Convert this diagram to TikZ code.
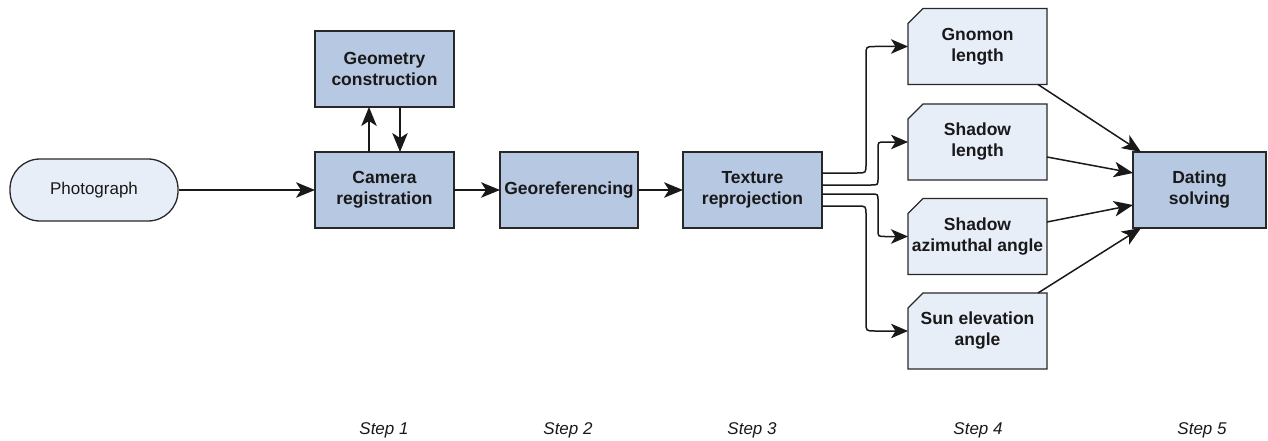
\documentclass[tikz,border=0pt]{standalone}
\usepackage{fontspec}
\setmainfont{Liberation Sans}
\usetikzlibrary{arrows.meta,backgrounds}
\definecolor{darkfill}{RGB}{183,200,226}
\definecolor{lightfill}{RGB}{232,238,248}
\definecolor{edge}{RGB}{40,40,40}
\definecolor{txt}{RGB}{25,25,25}
\tikzset{
  base/.style={text=txt, align=center,
    font=\fontsize{17.5}{21}\selectfont\bfseries, inner sep=0pt, outer sep=0pt,
    minimum width=139pt, minimum height=76pt},
  mainbox/.style={base, rectangle, draw=edge, line width=1.3pt, fill=darkfill},
  measbox/.style={base, rectangle},
  measedge/.style={draw=edge, line width=1.3pt, fill=lightfill, line join=miter},
  pill/.style={draw=edge, line width=1.3pt, fill=lightfill, text=txt,
    rounded corners=30pt, minimum width=168pt, minimum height=62pt,
    font=\fontsize{17}{21}\selectfont, inner sep=0pt},
  steplabel/.style={text=txt, font=\fontsize{17}{21}\selectfont\itshape, inner sep=0pt},
  arr/.style={draw=black!90, line width=1.5pt,
    -{Stealth[length=19pt,width=15.5pt,inset=5pt]}},
  arrs/.style={draw=black!90, line width=1.5pt,
    -{Stealth[length=17pt,width=14.5pt,inset=4.5pt]}},
}
\begin{document}
\begin{tikzpicture}[x=1pt,y=-1pt]
\useasboundingbox (0,0) rectangle (1268,441);

\node[pill] (photo) at (94,190) {Photograph};
\node[mainbox] (geo) at (384.5,69) {Geometry\\construction};
\node[mainbox] (cam) at (384.5,190) {Camera\\registration};
\node[mainbox, minimum width=138pt] (georef) at (569,190) {Georeferencing};
\node[mainbox] (tex) at (752.5,190) {Texture\\reprojection};

\node[measbox] (gnomon) at (977.5,46.5) {Gnomon\\length};
\node[measbox] (shlen) at (977.5,142) {Shadow\\length};
\node[measbox] (shaz) at (977.5,236.5) {Shadow\\azimuthal angle};
\node[measbox] (sun) at (977.5,331) {Sun elevation\\angle};

\begin{scope}[on background layer]
\foreach \b in {gnomon,shlen,shaz,sun}{
  \draw[measedge] ([yshift=-15pt]\b.north west) -- ([xshift=15pt]\b.north west)
    -- (\b.north east) -- (\b.south east) -- (\b.south west) -- cycle;
}
\end{scope}

\node[mainbox, minimum width=133pt] (dating) at (1199.5,190) {Dating\\solving};

\node[steplabel] (s1) at (384,430) {Step 1};
\node[steplabel] (s2) at (568,430) {Step 2};
\node[steplabel] (s3) at (752,430) {Step 3};
\node[steplabel] (s4) at (978,430) {Step 4};
\node[steplabel] (s5) at (1202,430) {Step 5};

\draw[arr] (photo.east) -- (cam.west);
\draw[arr] ([xshift=-15.5pt]cam.north) -- ([xshift=-15.5pt]geo.south);
\draw[arr] ([xshift=15.5pt]geo.south) -- ([xshift=15.5pt]cam.north);
\draw[arr] (cam.east) -- (georef.west);
\draw[arr] (georef.east) -- (tex.west);

% fan-out from Texture reprojection
\coordinate (oa) at ([yshift=17pt]tex.east);
\coordinate (ob) at ([yshift=5pt]tex.east);
\coordinate (oc) at ([yshift=-4pt]tex.east);
\coordinate (od) at ([yshift=-16pt]tex.east);
\coordinate (ka) at ([xshift=-42pt]gnomon.west);
\coordinate (kb) at ([xshift=-30pt]shlen.west);
\coordinate (kc) at ([xshift=-30pt]shaz.west);
\coordinate (kd) at ([xshift=-42pt]sun.west);

\draw[arrs] (oa) -- ([xshift=-9pt]ka |- oa) .. controls (ka |- oa) .. ([yshift=9pt]ka |- oa)
  -- ([yshift=-9pt]ka) .. controls (ka) .. ([xshift=9pt]ka) -- (gnomon.west);
\draw[arrs] (ob) -- ([xshift=-7pt]kb |- ob) .. controls (kb |- ob) .. ([yshift=7pt]kb |- ob)
  -- ([yshift=-7pt]kb) .. controls (kb) .. ([xshift=7pt]kb) -- (shlen.west);
\draw[arrs] (oc) -- ([xshift=-7pt]kc |- oc) .. controls (kc |- oc) .. ([yshift=-7pt]kc |- oc)
  -- ([yshift=7pt]kc) .. controls (kc) .. ([xshift=7pt]kc) -- (shaz.west);
\draw[arrs] (od) -- ([xshift=-9pt]kd |- od) .. controls (kd |- od) .. ([yshift=-9pt]kd |- od)
  -- ([yshift=9pt]kd) .. controls (kd) .. ([xshift=9pt]kd) -- (sun.west);

\draw[arr] ([xshift=-9pt]gnomon.south east) -- ([xshift=8pt]dating.north west);
\draw[arr] ([yshift=-15pt]shlen.east) -- ([yshift=17pt]dating.west);
\draw[arr] ([yshift=14.5pt]shaz.east) -- ([yshift=-15pt]dating.west);
\draw[arr] ([xshift=-9pt]sun.north east) -- ([xshift=8pt]dating.south west);
\end{tikzpicture}
\end{document}
